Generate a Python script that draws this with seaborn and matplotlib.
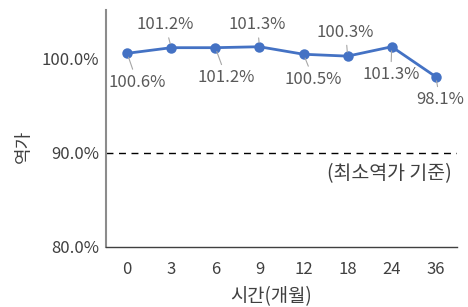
import matplotlib
matplotlib.use('Agg')
import matplotlib.pyplot as plt
import seaborn as sns

months = ['0', '3', '6', '9', '12', '18', '24', '36']
potency = [100.6, 101.2, 101.2, 101.3, 100.5, 100.3, 101.3, 98.1]
y_ticks = [80, 90, 100]
label_offsets = [(10, -29), (-6, 23), (11, -30), (-2, 22), (10, -25), (-2, 24), (-1, -28), (4, -23)]

sns.set_theme(style='white')
plt.rcParams['font.family'] = ['Noto Sans CJK KR', 'DejaVu Sans']

fig = plt.figure(figsize=(4.68, 3.07), dpi=100)
ax = fig.add_axes([0.2265, 0.1964, 0.75, 0.7706])

sns.pointplot(x=months, y=potency, color='#4472C4', markers='o',
              markersize=6, linewidth=2, ax=ax)

ax.axhline(90, color='black', linestyle=(0, (5, 4)), linewidth=1)
ax.text(7.35, 87.8, '(최소역가 기준)', ha='right', va='center', fontsize=14, color='#404040')

for i, (v, (dx, dy)) in enumerate(zip(potency, label_offsets)):
    ax.annotate(f'{v:.1f}%', xy=(i, v), xytext=(dx, dy), textcoords='offset pixels',
                ha='center', va='center', fontsize=12, color='#595959',
                arrowprops=dict(arrowstyle='-', color='#A6A6A6', lw=0.8, shrinkA=1, shrinkB=3))

ax.set_ylim(80, 105.2)
ax.set_xlim(-0.48, 7.48)
ax.set_yticks(y_ticks)
ax.set_yticklabels([f'{t:.1f}%' for t in y_ticks])
ax.tick_params(axis='both', length=0, labelsize=12, colors='#404040')
ax.tick_params(axis='x', pad=10)
ax.tick_params(axis='y', pad=5)
ax.set_xlabel('시간(개월)', fontsize=13.5, color='#404040')
ax.set_ylabel('역가', fontsize=13, color='#404040')
ax.xaxis.set_label_coords(0.47, -0.168)
ax.yaxis.set_label_coords(-0.207, 0.426)

for s in ['top', 'right']:
    ax.spines[s].set_visible(False)
ax.spines['left'].set_color('#8C8C8C')
ax.spines['left'].set_linewidth(1.5)
ax.spines['bottom'].set_color('#404040')
ax.spines['bottom'].set_linewidth(1)
ax.grid(False)

fig.savefig('out.png', dpi=100)
